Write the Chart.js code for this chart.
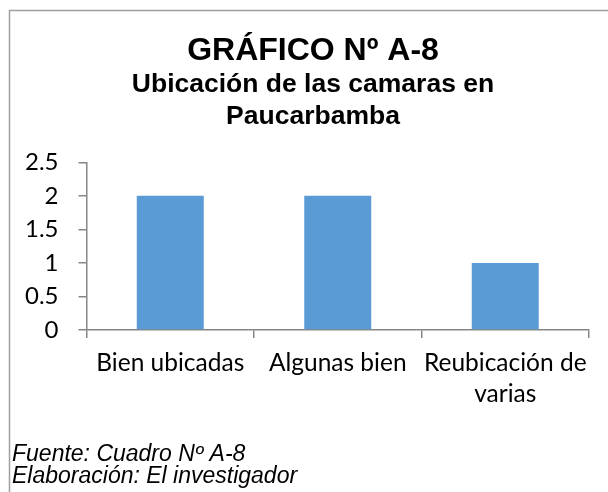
<!DOCTYPE html>
<html>
<head>
<meta charset="utf-8">
<script src="https://cdn.jsdelivr.net/npm/chart.js@4"></script>
<style>
  html, body { margin: 0; padding: 0; background: #fff; }
  #wrap { position: relative; width: 608px; height: 492px; }
</style>
</head>
<body>
<div id="wrap"><canvas id="chart" width="608" height="492"></canvas></div>
<script>
// ---------- Data ----------
const categories = ['Bien ubicadas', 'Algunas bien', ['Reubicación de', 'varias']];
const values = [2, 2, 1];
const yTicks = [0, 0.5, 1, 1.5, 2, 2.5];
const titleText = 'GRÁFICO Nº A-8';
const subtitleLines = ['Ubicación de las camaras en', 'Paucarbamba'];
const footerLines = ['Fuente: Cuadro Nº A-8', 'Elaboración: El investigador'];

const barColor = '#5B9BD5';
const axisColor = '#868686';

// frame (left + top only, the rest is cropped) and footer text
const framePlugin = {
  id: 'frame',
  afterLayout(chart) {
    // title + subtitle are centred a bit right of the plot, like the original
    chart.boxes.forEach(b => {
      if (b.options && b.options.text !== undefined && b.position === 'top') {
        b.left = 37;
        b.right = 589;
      }
    });
  },
  beforeDraw(chart) {
    const ctx = chart.ctx;
    ctx.save();
    ctx.strokeStyle = '#a0a0a0';
    ctx.lineWidth = 1.5;
    ctx.beginPath();
    ctx.moveTo(9.5, chart.height);
    ctx.lineTo(9.5, 10.5);
    ctx.lineTo(chart.width, 10.5);
    ctx.stroke();
    ctx.restore();
  },
  afterDraw(chart) {
    const ctx = chart.ctx;
    ctx.save();
    ctx.fillStyle = '#000';
    ctx.font = 'italic 23px "Liberation Sans", Arial, sans-serif';
    ctx.textBaseline = 'alphabetic';
    ctx.fillText(footerLines[0], 12, 461);
    ctx.fillText(footerLines[1], 12, 483);
    ctx.restore();
  }
};

const ctx = document.getElementById('chart').getContext('2d');
new Chart(ctx, {
  type: 'bar',
  data: {
    labels: categories,
    datasets: [{
      data: values,
      backgroundColor: barColor,
      borderWidth: 0,
      barPercentage: 0.4,
      categoryPercentage: 1
    }]
  },
  options: {
    responsive: false,
    animation: false,
    layout: { padding: { top: 0, left: 5, right: 19, bottom: 72 } },
    plugins: {
      legend: { display: false },
      tooltip: { enabled: false },
      title: {
        display: true,
        text: titleText,
        color: '#000',
        font: { family: '"Liberation Sans", Arial, sans-serif', size: 32, weight: 'bold', lineHeight: 1.1 },
        padding: { top: 34, bottom: 0 }
      },
      subtitle: {
        display: true,
        text: subtitleLines,
        color: '#000',
        font: { family: '"Liberation Sans", Arial, sans-serif', size: 26.5, weight: 'bold', lineHeight: 1.19 },
        padding: { top: 0, bottom: 30 }
      }
    },
    scales: {
      x: {
        grid: { drawOnChartArea: false, drawTicks: true, tickLength: 8, color: axisColor, lineWidth: 1.5 },
        border: { color: axisColor, width: 1.5 },
        ticks: {
          color: '#000',
          padding: 10,
          maxRotation: 0,
          autoSkip: false,
          font: { family: 'Lato, sans-serif', size: 24.5, lineHeight: 1.265 }
        }
      },
      y: {
        min: yTicks[0],
        max: yTicks[yTicks.length - 1],
        afterBuildTicks: (scale) => { scale.ticks = yTicks.map(v => ({ value: v })); },
        grid: { drawOnChartArea: false, drawTicks: true, tickLength: 8, color: axisColor, lineWidth: 1.5 },
        border: { color: axisColor, width: 1.5 },
        ticks: {
          autoSkip: false,
          color: '#000',
          padding: 20,
          callback: (v) => String(v),
          font: { family: 'Lato, sans-serif', size: 24 }
        }
      }
    }
  },
  plugins: [framePlugin]
});
</script>
</body>
</html>
